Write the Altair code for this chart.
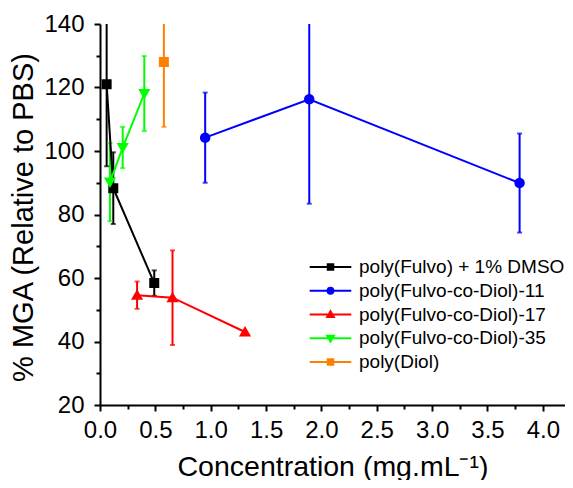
import altair as alt
import pandas as pd

# ---- data ----
names = [
    "poly(Fulvo) + 1% DMSO",
    "poly(Fulvo-co-Diol)-11",
    "poly(Fulvo-co-Diol)-17",
    "poly(Fulvo-co-Diol)-35",
    "poly(Diol)",
]
colors = ["#000000", "#0000FF", "#FF0000", "#00FF00", "#FF8000"]

fulvo_x = [0.06, 0.12, 0.49]
fulvo_y = [121.0, 88.3, 58.4]
fulvo_err = [25.8, 11.3, 4.0]

d11_x = [0.95, 1.89, 3.79]
d11_y = [104.2, 116.3, 89.9]
d11_err = [14.2, 32.9, 15.6]

d17_x = [0.335, 0.655, 1.31]
d17_y = [54.6, 53.8, 43.0]
d17_err = [4.3, 14.9, 0.0]

d35_x = [0.09, 0.205, 0.40]
d35_y = [90.2, 101.1, 118.1]
d35_err = [12.3, 6.5, 11.8]

diol_x = [0.577]
diol_y = [128.0]
diol_err = [20.4]

x_ticks = [i * 0.25 for i in range(17)]
y_ticks = list(range(20, 141, 10))

# ---- styling ----
FONT = "Liberation Sans"
SEG = "M-5.2,0H5.2"  # legend line segment (only stroked in the legend)
marker_paths = [
    SEG + "M-0.69,-0.69H0.69V0.69H-0.69Z",
    SEG + "M-0.72,0A0.72,0.72 0 1,0 0.72,0A0.72,0.72 0 1,0 -0.72,0Z",
    SEG + "M0,-0.82L0.84,0.62L-0.84,0.62Z",
    SEG + "M0,0.82L0.84,-0.62L-0.84,-0.62Z",
    SEG + "M-0.69,-0.69H0.69V0.69H-0.69Z",
]

rows = []
for name, xs, ys, es in zip(
    names,
    [fulvo_x, d11_x, d17_x, d35_x, diol_x],
    [fulvo_y, d11_y, d17_y, d35_y, diol_y],
    [fulvo_err, d11_err, d17_err, d35_err, diol_err],
):
    for xv, yv, ev in zip(xs, ys, es):
        rows.append(dict(series=name, label=name, x=xv, y=yv, err=ev,
                         lo=yv - ev, hi=yv + ev))
df = pd.DataFrame(rows)

xscale = alt.Scale(domain=[0, 4.2], nice=False, zero=False)
yscale = alt.Scale(domain=[20, 140], nice=False, zero=False)

x_axis = alt.Axis(
    values=x_ticks,
    format=".1f",
    labelExpr="datum.value % 0.5 === 0 ? datum.label : ''",
    tickSize={"condition": {"test": "datum.value % 0.5 === 0", "value": 6}, "value": 4},
    labelFontSize=24,
    labelPadding=7,
    labelFlush=False,
    titleFontSize=28.5,
    titleY=70,
    titleBaseline="alphabetic",
    grid=False,
)
y_axis = alt.Axis(
    values=y_ticks,
    labelExpr="datum.value % 20 === 0 ? datum.label : ''",
    tickSize={"condition": {"test": "datum.value % 20 === 0", "value": 6}, "value": 4},
    labelFontSize=24,
    labelPadding=10,
    labelFlush=False,
    titleFontSize=29,
    titleX=-68,
    titleY=193,
    titleBaseline="alphabetic",
    grid=False,
)
X_TITLE = "Concentration (mg.mL\u207b\u00b9)"
Y_TITLE = "% MGA (Relative to PBS)"

xenc = alt.X("x:Q", scale=xscale, axis=x_axis, title=X_TITLE)


def yenc(field):
    return alt.Y(field, scale=yscale, axis=y_axis, title=Y_TITLE)


legend = alt.Legend(
    title=None, orient="none", legendX=221, legendY=233.5,
    symbolSize=64, symbolStrokeWidth=2, labelFont=FONT, labelFontSize=19,
    labelColor="black", labelOffset=19, labelLimit=400, rowPadding=3.75,
    padding=0,
)

base = alt.Chart(df)
# same mapping, listed in reverse so this (legend-less) scale is not merged
# with the legend scales
cscale = alt.Scale(domain=names[::-1], range=colors[::-1])
has_err = "datum.err > 0"

errs = base.transform_filter(has_err).mark_rule(strokeWidth=2, clip=True).encode(
    x=xenc, y=yenc("lo:Q"), y2="hi:Q",
    color=alt.Color("series:N", scale=cscale, legend=None),
)
cap_lo = base.transform_filter(has_err).mark_tick(
    orient="horizontal", size=5, thickness=2, clip=True).encode(
    x=xenc, y=yenc("lo:Q"),
    color=alt.Color("series:N", scale=cscale, legend=None),
)
cap_hi = base.transform_filter(has_err).mark_tick(
    orient="horizontal", size=5, thickness=2, clip=True).encode(
    x=xenc, y=yenc("hi:Q"),
    color=alt.Color("series:N", scale=cscale, legend=None),
)
lines = base.mark_line(strokeWidth=2).encode(
    x=xenc, y=yenc("y:Q"),
    color=alt.Color("series:N", scale=cscale, legend=None),
)
points = base.mark_point(filled=True, size=210, opacity=1).encode(
    x=xenc, y=yenc("y:Q"),
    fill=alt.Fill("label:N", scale=alt.Scale(domain=names, range=colors), legend=legend),
    stroke=alt.Stroke("label:N", scale=alt.Scale(domain=names, range=colors), legend=legend),
    shape=alt.Shape("label:N", scale=alt.Scale(domain=names, range=marker_paths),
                    legend=legend),
    strokeWidth=alt.value(0),
)

chart = alt.layer(errs, cap_lo, cap_hi, lines, points).properties(
    width=465,
    height=381,
    autosize=alt.AutoSizeParams(type="none"),
    padding={"left": 92, "top": 16, "right": 0, "bottom": 75},
).configure_view(stroke=None).configure_axis(
    domainColor="black", domainWidth=2, tickColor="black", tickWidth=2,
    labelFont=FONT, labelColor="black", titleFont=FONT, titleColor="black",
    titleFontWeight="normal",
).configure_legend(labelFont=FONT)

chart.save("out.html", embed_options={"renderer": "svg", "actions": False})
